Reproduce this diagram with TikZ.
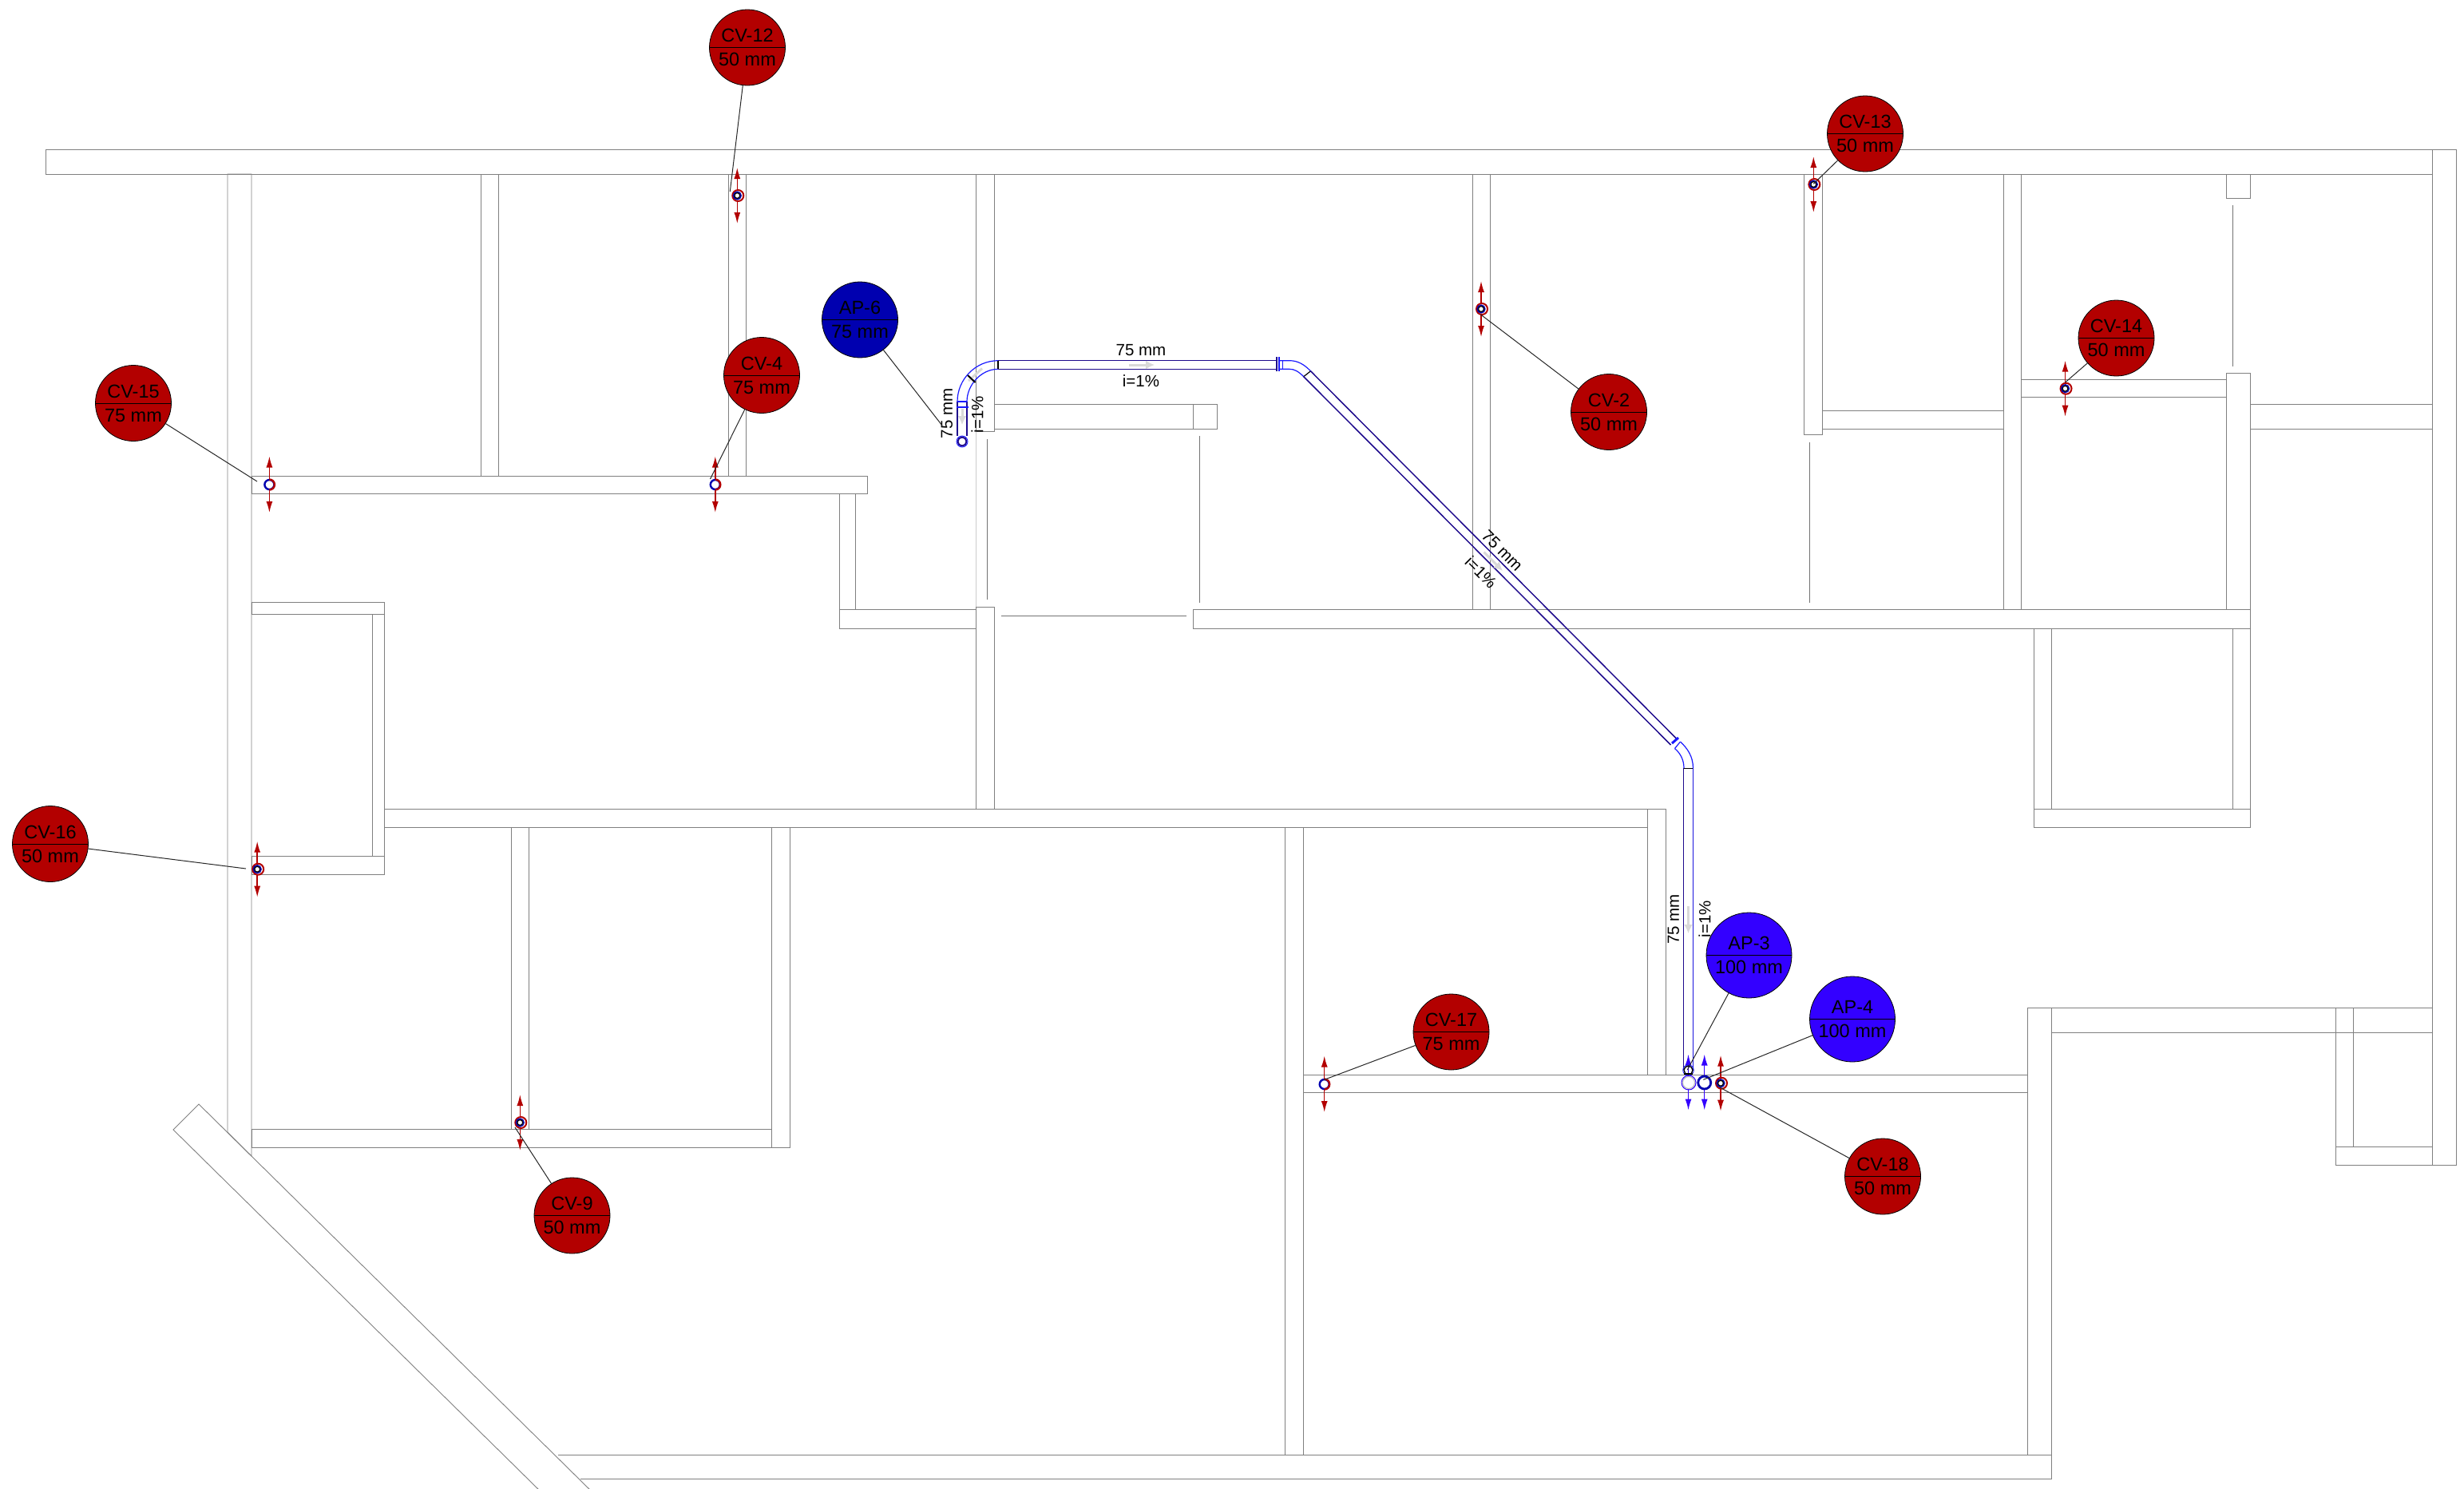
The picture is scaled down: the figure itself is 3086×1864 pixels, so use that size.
\documentclass[tikz,border=0pt]{standalone}
\usepackage{fontspec}
\setmainfont{Liberation Sans}
\usetikzlibrary{arrows.meta}
\definecolor{cvred}{RGB}{179,0,0}
\definecolor{apdark}{RGB}{0,0,176}
\definecolor{aplight}{RGB}{51,0,255}
\definecolor{pipenavy}{RGB}{30,10,140}
\definecolor{pipeblue}{RGB}{25,25,255}
\tikzset{
  wall/.style={draw=black!50,line width=.9pt},
  door/.style={draw=black!55,line width=1.3pt},
  pipe/.style={draw=pipenavy,line width=1.5pt},
  elbow/.style={draw=pipeblue,line width=1.2pt},
  joint/.style={draw=black,line width=1.2pt},
  flow/.style={draw=black!15,line width=3pt,-{Latex[length=11pt,width=11pt]}},
  leader/.style={draw=black!85,line width=1pt},
  callout/.style={circle,draw=black,line width=.8pt,inner sep=0pt,align=center,text=black,
    font=\fontsize{23.5}{30}\selectfont},
  pipelabel/.style={inner sep=0pt,text=black,font=\fontsize{20.5}{24}\selectfont},
  updown/.style={line width=1.5pt,{Latex[length=14pt,width=8pt]}-{Latex[length=14pt,width=8pt]}},
}
\begin{document}
\begin{tikzpicture}[x=1pt,y=-1pt]
  \useasboundingbox (0,0) rectangle (3086,1864);
  % walls
  \foreach \xa/\ya/\xb/\yb in {
    57.5/187.5/3046/218, 3046/187.5/3076/1459,
    602.5/218/624/596, 912.5/218/934.5/596, 315/596/1086/618,
    1051.5/618/1071/763.5, 1051.5/763.5/1222.5/787, 1222.5/218/1245/540,
    1245/506.5/1524/537.5, 1494.5/506.5/1494.5/537.5, 1222.5/760/1245/1013,
    1844/218/1866/763.5, 1494.5/763.5/2818.5/787, 2259.5/218/2282.5/544,
    2282.5/514.5/2509/537, 2509/218/2531.5/763.5, 2531.5/475/2788.5/497.5,
    2788.5/218/2818.5/248, 2788.5/467/2818.5/763.5, 2818.5/506.5/3046/537,
    2547/787/2569.5/1013.5, 2796.5/787/2818.5/1013.5, 2547/1013.5/2818.5/1036.5,
    315/754/481/769.5, 466.5/769.5/481/1072, 315/1072/481/1095,
    481/1013.5/2063.5/1036.5, 2063.5/1013.5/2086/1346,
    640/1036.5/662/1414, 966.5/1036.5/989.5/1437, 315/1414/966.5/1437,
    1632.5/1346/2539.5/1368, 1609/1036.5/1632.5/1822.5,
    2539.5/1262/2569/1822.5, 2569/1262/3046/1293,
    2925.5/1262/2947/1436, 2925.5/1436/3046/1459}
    \draw[wall] (\xa,\ya) rectangle (\xb,\yb);
  \draw[wall] (285,218) -- (315,218) -- (315,1448) -- (285,1418) -- cycle;
  \draw[wall] (249,1383) -- (217,1415) -- (680,1871) -- (744,1871) -- cycle;
  \draw[wall] (698.5,1822.5) -- (2569,1822.5) -- (2569,1852) -- (727,1852);
  \draw[wall,black!20] (1222.5,540) -- (1222.5,760);
  % doors
  \draw[door] (1236.5,550) -- (1236.5,751);
  \draw[door] (1502.5,546) -- (1502.5,754.5);
  \draw[door] (1254,771.5) -- (1485.5,771.5);
  \draw[door] (2266.5,554) -- (2266.5,755);
  \draw[door] (2796.5,257) -- (2796.5,459);
  % pipe
  \coordinate (drainA) at (1205,553);
  \coordinate (drainB) at (2114.5,1340.5);
  \draw[pipe] (1199,546) -- (1199,503);
  \draw[pipe] (1211,546) -- (1211,503);
  \draw[pipeblue,line width=2.5pt] (1197.5,510) -- (1212.5,510);
  \draw[elbow] (1199,503) -- (1211,503);
  \draw[elbow] (1199,503) .. controls (1199,475) and (1222,451.7) .. (1250,451.7);
  \draw[elbow] (1211,503) .. controls (1211,482) and (1229,462.3) .. (1250,462.3);
  \draw[flow] (1205,512) -- (1205,532);
  \draw[flow,-] (1213,477) -- (1230,461.5);
  \draw[joint,line width=2pt] (1212,470) -- (1221.5,479);
  \draw[joint] (1250,451.7) -- (1250,462.3);
  \draw[pipe] (1250,451.7) -- (1600,451.7);
  \draw[pipe] (1250,462.3) -- (1600,462.3);
  \draw[flow] (1414,457) -- (1446,457);
  \draw[pipenavy,line width=2pt] (1598.5,447) -- (1598.5,465);
  \draw[pipeblue,line width=2pt] (1602,447) -- (1602,465);
  \draw[elbow] (1606.5,451.7) -- (1606.5,462.3);
  \draw[elbow] (1602,451.7) -- (1615,451.7) .. controls (1625,451.7) and (1633,456) .. (1641.5,464.8);
  \draw[elbow] (1602,462.3) -- (1615,462.3) .. controls (1621,462.3) and (1626,465) .. (1632.7,471.7);
  \draw[joint] (1641.5,464.8) -- (1632.7,471.7);
  \draw[pipe] (1641.5,464.8) -- (2099.5,925);
  \draw[pipe] (1632.7,471.7) -- (2092.5,933);
  \draw[flow] (1858.5,691.5) -- (1882,715);
  \draw[pipeblue,line width=3pt] (2094,931) -- (2102,924);
  \draw[pipeblue,line width=1.2pt] (2097.5,937.5) -- (2104.5,929);
  \draw[elbow] (2104.5,929) .. controls (2113,937) and (2120.5,947) .. (2120.5,962.3);
  \draw[elbow] (2097.5,937.5) .. controls (2104,943) and (2109,951) .. (2109,962.3);
  \draw[joint] (2109,962.3) -- (2120.5,962.3);
  \draw[pipe] (2108.5,962.3) -- (2108.5,1340);
  \draw[pipeblue!70!pipenavy,line width=1.5pt] (2120.3,962.3) -- (2120.3,1340);
  \draw[flow] (2114.5,1135) -- (2114.5,1169);
  % pipe labels
  \node[pipelabel,rotate=90] (labAsize) at (1186,518) {75 mm};
  \node[pipelabel,rotate=90] (labAslope) at (1224,519) {i=1\%};
  \node[pipelabel] (labBsize) at (1429,439) {75 mm};
  \node[pipelabel] (labBslope) at (1429,477) {i=1\%};
  \node[pipelabel,rotate=-45] (labCsize) at (1881.5,690) {75 mm};
  \node[pipelabel,rotate=-45] (labCslope) at (1855,716.5) {i=1\%};
  \node[pipelabel,rotate=90] (labDsize) at (2096,1151.5) {75 mm};
  \node[pipelabel,rotate=90] (labDslope) at (2135,1151) {i=1\%};
  % 75 mm stacks
  \foreach \dev/\x/\y in {cvb/895.8/607, cvo/337.4/607, cvq/1658.7/1358}{
    \coordinate (\dev) at (\x,\y);
    \draw[updown,cvred] (\x,\y-35.5) -- (\x,\y+35);
    \draw[draw=apdark,fill=white,line width=2.4pt] (\dev) circle (6pt);
    \draw[cvred,line width=2.4pt] (\x,\y-6.5) arc (-90:90:6.5);
  }
  % 50 mm stacks
  \foreach \dev/\x/\y in {cva/923.3/245, cvm/2271.3/231, cvn/2586.5/486.7, cvc/1855/387,
    cvp/322.2/1088.7, cvi/651.3/1406, cvr/2155/1356.7}{
    \coordinate (\dev) at (\x,\y);
    \draw[updown,cvred] (\x,\y-35) -- (\x,\y+35);
    \draw[draw=cvred,fill=white,line width=2pt] (\x+1,\y) circle (7pt);
    \draw[draw=apdark,fill=white,line width=1.6pt] (\dev) circle (4.8pt);
    \draw[black,line width=1.2pt] (\dev) circle (3.4pt);
  }
  % drains
  \draw[updown,aplight] (2114.5,1320.5) -- (2114.5,1390.5);
  \draw[updown,aplight] (2134.7,1320.5) -- (2134.7,1390.5);
  \draw[draw=pipenavy,fill=white,line width=2pt] (drainA) circle (5.5pt);
  \draw[draw=pipeblue,line width=.9pt] (drainA) circle (7pt);
  \draw[draw=black,line width=1.4pt] (drainB) circle (5.5pt);
  \draw[draw=pipeblue,line width=.8pt] (drainB) circle (6.8pt);
  \draw[black,line width=2pt] (2109,1345) -- (2120,1345);
  \coordinate (riserA) at (2115,1356);
  \coordinate (riserB) at (2134.7,1356);
  \draw[draw=black!25,fill=white,line width=1.2pt] (riserA) circle (7.5pt);
  \draw[draw=aplight,line width=1pt] (riserA) circle (9pt);
  \draw[draw=apdark,fill=white,line width=2.8pt] (riserB) circle (8pt);
  % callouts
  \foreach \name/\x/\y/\rad/\col/\title/\size/\ex/\ey in {
    cvl/936/59.5/47.5/cvred/CV-12/50 mm/914.3/240,
    cvd/954/470/47.5/cvred/CV-4/75 mm/889.5/600,
    cvf/167/505/47.5/cvred/CV-15/75 mm/322/603,
    cvk/2015/516/47.5/cvred/CV-2/50 mm/1854.5/394,
    cvg/2336/167.5/47.5/cvred/CV-13/50 mm/2271.3/230.3,
    cvh/2650.5/423.5/47.5/cvred/CV-14/50 mm/2586.5/479,
    cvj/63/1057/47.5/cvred/CV-16/50 mm/308/1088,
    cvs/716.5/1522.5/47.5/cvred/CV-9/50 mm/645/1412,
    cvt/1817.5/1292.5/47.5/cvred/CV-17/75 mm/1657.8/1352.6,
    cvu/2358/1473.5/47.5/cvred/CV-18/50 mm/2154/1362,
    apf/1077/400.5/47.5/apdark/AP-6/75 mm/1180/533,
    apc/2190.5/1196.5/53.5/aplight/AP-3/100 mm/2113.3/1340,
    apd/2320/1276.5/53.5/aplight/AP-4/100 mm/2133.3/1352.3}{
    \coordinate (\name end) at (\ex,\ey);
    \node[callout,fill=\col,minimum size=2*\rad*1pt] (\name) at (\x,\y) {\title\\\size};
    \draw[leader] (\name) -- (\name end);
    \draw[black,line width=.8pt] (\name.west) -- (\name.east);
  }
\end{tikzpicture}
\end{document}
